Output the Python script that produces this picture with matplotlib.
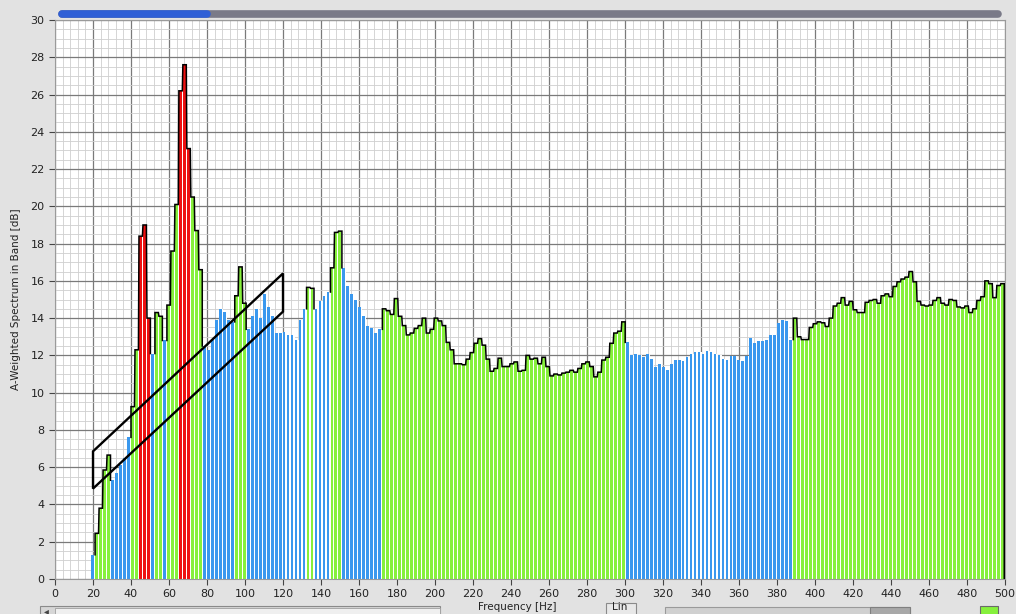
import numpy as np
import matplotlib.pyplot as plt
from matplotlib.patches import Polygon, Rectangle
from matplotlib.lines import Line2D
from matplotlib.ticker import MultipleLocator

# frequency bins (left edge of first bin and bin width, Hz)
FREQ_START = 19.0
FREQ_STEP = 2.1

# band levels [dB], read bin by bin from the picture
LEVELS_A = [1.3, 2.45, 3.8, 5.85, 6.65, 5.3, 5.7, 6.1, 6.5, 7.6,
            9.25, 12.3, 18.4, 19.0, 14.0, 12.1, 14.3, 14.1, 12.8, 14.7,
            17.6, 20.1, 26.2, 27.6, 23.1, 20.5, 18.7, 16.6, 12.5, 12.3,
            12.8, 13.9, 14.5, 14.35, 13.9, 13.8, 15.2, 16.75, 14.8, 13.4,
            14.1, 14.5, 14.0, 15.3, 14.6, 14.1, 13.2, 13.2]
CODES_A = "b" + "gggg" + "bbbbb" + "gg" + "rrr" + "b" + "gg" + "b" + "ggg" + "rrr" + "ggg" + "b" * 8 + "ggg" + "b" * 9

LEVELS_B = [13.25, 13.1, 13.1, 12.8, 13.9, 14.5, 15.65, 15.6, 14.5, 14.9,
            15.2, 15.4, 16.7, 18.6, 18.67, 16.7, 15.75, 15.3, 15.0, 14.6,
            14.1, 13.6, 13.45, 13.2, 13.4, 14.5, 14.4, 14.2, 15.05, 14.1,
            13.6, 13.1, 13.2, 13.45, 13.6, 14.0, 13.2, 13.4, 14.0, 13.85,
            13.6, 12.7, 12.3, 11.55, 11.55, 11.5, 11.8, 12.15, 12.65, 12.9]
CODES_B = "b" * 6 + "gg" + "bbbb" + "ggg" + "b" * 10 + "g" * 25

LEVELS_C = [12.55, 11.8, 11.15, 11.3, 11.85, 11.4, 11.4, 11.55, 11.65, 11.15,
            11.2, 12.0, 11.8, 11.85, 11.55, 11.9, 11.4, 10.9, 11.0, 10.95,
            11.05, 11.1, 11.2, 11.1, 11.3, 11.55, 11.65, 11.4, 10.85, 11.1,
            11.75, 11.9, 12.65, 13.2, 13.3, 13.8,
            12.7, 12.0, 12.05, 12.0, 11.9, 12.05, 11.8, 11.4, 11.55, 11.4,
            11.2, 11.55]
CODES_C = "g" * 36 + "b" * 12

LEVELS_D = [11.75, 11.75, 11.7, 11.9, 12.05, 12.2, 12.2, 12.05, 12.25, 12.2,
            12.1, 12.0, 11.8, 11.75, 11.95, 11.95, 11.75, 11.7, 11.95, 12.95,
            12.65, 12.75, 12.75, 12.85, 13.1, 13.1, 13.75, 13.9, 13.85, 12.85,
            14.0, 13.0, 12.85, 12.85, 13.5, 13.7, 13.8, 13.75, 13.55, 14.0,
            14.65, 14.8, 15.1, 14.7, 14.9, 14.45, 14.3, 14.3,
            14.85, 14.95, 15.0, 14.8, 15.2, 15.3, 15.15, 15.7, 15.95, 16.1,
            16.2, 16.5, 15.95, 14.9, 14.7, 14.65, 14.7, 14.95, 15.1, 14.8,
            14.7, 15.0, 14.95, 14.6, 14.55, 14.65, 14.3, 14.5, 14.95, 15.15,
            16.0, 15.85, 15.1, 15.75, 15.85]
CODES_D = "b" * 30 + "g" * 53

# marked region (parallelogram corners, Hz / dB)
BOX_F = [20, 120, 120, 20]
BOX_DB = [6.85, 16.4, 14.35, 4.85]

COLOURS = {"g": "#86f03c", "b": "#3a98ee", "r": "#ee1111"}


def main():
    levels = np.array(LEVELS_A + LEVELS_B + LEVELS_C + LEVELS_D)
    codes = CODES_A + CODES_B + CODES_C + CODES_D
    n = len(levels)
    x_left = FREQ_START + FREQ_STEP * np.arange(n)

    fig = plt.figure(figsize=(10.16, 6.14), dpi=100)
    fig.patch.set_facecolor("#e2e2e2")
    ax = fig.add_axes([55 / 1016, 35 / 614, 950 / 1016, 559 / 614])
    ax.set_facecolor("white")

    # fundo branco sob as barras (as frestas ficam brancas, sem grade)
    ax.bar(x_left, levels, width=FREQ_STEP, align="edge",
           color="white", linewidth=0, zorder=1.5)
    # barras
    ax.bar(x_left, levels, width=FREQ_STEP * 0.72, align="edge",
           color=[COLOURS[c] for c in codes], linewidth=0, zorder=2,
           antialiased=False)

    # contorno preto nas barras verdes/vermelhas
    i = 0
    while i < n:
        if codes[i] == "b":
            i += 1
            continue
        s = i
        while i < n and codes[i] != "b":
            i += 1
        e = i - 1
        xs = [x_left[s]]
        ys = [levels[s - 1] if s > 0 else 0]
        for k in range(s, e + 1):
            xs += [x_left[k], x_left[k] + FREQ_STEP * 0.86]
            ys += [levels[k], levels[k]]
        xs.append(x_left[e] + FREQ_STEP * 0.86)
        ys.append(levels[e + 1] if e + 1 < n else 0)
        ax.plot(xs, ys, color="black", lw=1.1, zorder=3,
                solid_joinstyle="miter")

    ax.add_patch(Polygon(list(zip(BOX_F, BOX_DB)), closed=True, fill=False,
                         edgecolor="black", lw=1.7, zorder=4))

    ax.set_xlim(0, 500)
    ax.set_ylim(0, 30)
    ax.xaxis.set_major_locator(MultipleLocator(20))
    ax.xaxis.set_minor_locator(MultipleLocator(4))
    ax.yaxis.set_major_locator(MultipleLocator(2))
    ax.yaxis.set_minor_locator(MultipleLocator(0.5))
    ax.grid(which="major", color="#7a7a7a", lw=0.9)
    ax.grid(which="minor", color="#cfcfcf", lw=0.6)
    ax.set_axisbelow(True)
    ax.tick_params(which="major", direction="out", length=4, width=0.8,
                   colors="#444444", labelsize=8, labelcolor="#222222")
    ax.tick_params(which="minor", length=0)
    for sp in ax.spines.values():
        sp.set_color("#9a9a9a")
        sp.set_linewidth(0.8)

    ax.set_ylabel("A-Weighted Spectrum in Band [dB]", fontsize=7.5,
                  color="#222222", labelpad=7)

    W, H = 1016, 614

    # barra de rolagem superior
    fig.add_artist(Line2D([62 / W, 998 / W], [1 - 14 / H, 1 - 14 / H],
                          color="#7a7a88", lw=5.5, solid_capstyle="round"))
    fig.add_artist(Line2D([62 / W, 207 / W], [1 - 14 / H, 1 - 14 / H],
                          color="#2f5fd6", lw=5.5, solid_capstyle="round"))

    # controles inferiores
    fig.add_artist(Rectangle((40 / W, -4 / H), 400 / W, 12 / H,
                             transform=fig.transFigure, facecolor="#d6d6d6",
                             edgecolor="#8a8a8a", lw=0.8))
    fig.add_artist(Rectangle((55 / W, -4 / H), 385 / W, 10 / H,
                             transform=fig.transFigure, facecolor="#efefef",
                             edgecolor="#a0a0a0", lw=0.6))
    fig.text(44 / W, 3 / H, "◂", fontsize=7, color="#444444",
             ha="left", va="center")
    fig.text(517 / W, 2 / H, "Frequency [Hz]", fontsize=7.5,
             color="#222222", ha="center", va="bottom")
    fig.add_artist(Rectangle((606 / W, -4 / H), 30 / W, 15 / H,
                             transform=fig.transFigure, facecolor="#e8e8e8",
                             edgecolor="#8a8a8a", lw=0.8))
    fig.text(612 / W, 2 / H, "Lin", fontsize=7.5, color="#222222",
             ha="left", va="bottom")
    fig.add_artist(Rectangle((665 / W, -4 / H), 245 / W, 11 / H,
                             transform=fig.transFigure, facecolor="#d0d0d0",
                             edgecolor="#9a9a9a", lw=0.8))
    fig.add_artist(Rectangle((870 / W, -4 / H), 40 / W, 11 / H,
                             transform=fig.transFigure, facecolor="#a8a8a8",
                             edgecolor="#808080", lw=0.8))
    fig.add_artist(Rectangle((980 / W, -4 / H), 18 / W, 12 / H,
                             transform=fig.transFigure, facecolor="#86f03c",
                             edgecolor="#6a6a6a", lw=0.8))

    fig.savefig("out.png", dpi=100, facecolor=fig.get_facecolor())


if __name__ == "__main__":
    main()
